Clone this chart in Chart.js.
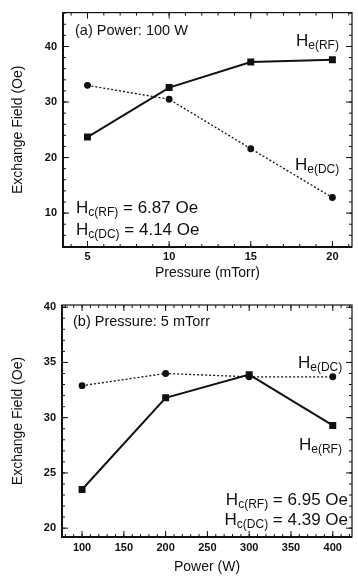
<!DOCTYPE html>
<html>
<head>
<meta charset="utf-8">
<script src="https://cdn.jsdelivr.net/npm/chart.js@4"></script>
<style>
  body { margin: 0; background: #fff; }
  .box { position: absolute; left: 0; width: 358px; }
</style>
</head>
<body>
<div class="box" style="top:0;height:290px"><canvas id="chartA" width="358" height="290"></canvas></div>
<div class="box" style="top:290px;height:288px"><canvas id="chartB" width="358" height="288"></canvas></div>
<script>
// panel (a): power 100 W, vs pressure
const pressure = [5, 10, 15, 20];
const heRfPressure = [23.7, 32.6, 37.2, 37.6];
const heDcPressure = [33.0, 30.5, 21.6, 12.8];
const pressureTicks = [5, 10, 15, 20];
const fieldTicksA = [10, 20, 30, 40];

// panel (b): pressure 5 mTorr, vs power
const power = [100, 200, 300, 400];
const heRfPower = [23.5, 31.8, 33.9, 29.3];
const heDcPower = [32.9, 34.0, 33.7, 33.7];
const powerTicks = [100, 150, 200, 250, 300, 350, 400];
const fieldTicksB = [20, 25, 30, 35, 40];

const FONT = "'Liberation Sans', Arial, Helvetica, sans-serif";
const INK = '#111';

function pts(xs, ys) {
    return xs.map((x, i) => ({ x: x, y: ys[i] }));
}

// frame with inward major + minor ticks on all four sides
const framePlugin = {
    id: 'frame',
    afterDraw(chart, args, opts) {
        const ctx = chart.ctx;
        const a = chart.chartArea;
        const xs = chart.scales.x, ys = chart.scales.y;
        ctx.save();
        ctx.strokeStyle = INK;
        ctx.lineWidth = 1.2;
        ctx.strokeRect(a.left, a.top, a.right - a.left, a.bottom - a.top);
        ctx.lineWidth = 2;
        ctx.beginPath();
        ctx.moveTo(a.left, a.top);
        ctx.lineTo(a.left, a.bottom);
        ctx.lineTo(a.right, a.bottom);
        ctx.stroke();
        ctx.lineWidth = 1;
        ctx.beginPath();
        const tickX = (v, len) => {
            const p = xs.getPixelForValue(v);
            ctx.moveTo(p, a.bottom); ctx.lineTo(p, a.bottom - len);
            ctx.moveTo(p, a.top); ctx.lineTo(p, a.top + len);
        };
        const tickY = (v, len) => {
            const p = ys.getPixelForValue(v);
            ctx.moveTo(a.left, p); ctx.lineTo(a.left + len, p);
            ctx.moveTo(a.right, p); ctx.lineTo(a.right - len, p);
        };
        for (let v = Math.ceil(xs.min / opts.xMinor) * opts.xMinor; v <= xs.max; v += opts.xMinor) tickX(v, 3);
        for (let v = Math.ceil(ys.min / opts.yMinor) * opts.yMinor; v <= ys.max; v += opts.yMinor) tickY(v, 3);
        xs.ticks.forEach(t => tickX(t.value, 6));
        ys.ticks.forEach(t => tickY(t.value, 6));
        ctx.stroke();
        ctx.restore();
    }
};

// text labels with subscripts
const notesPlugin = {
    id: 'notes',
    afterDraw(chart, args, opts) {
        const ctx = chart.ctx;
        ctx.save();
        ctx.fillStyle = INK;
        ctx.textBaseline = 'alphabetic';
        ctx.textAlign = 'left';
        opts.items.forEach(item => {
            let w = 0;
            item.parts.forEach(p => {
                ctx.font = p.size + 'px ' + FONT;
                w += ctx.measureText(p.t).width;
            });
            let x = item.align === 'right' ? item.x - w : item.x;
            item.parts.forEach(p => {
                ctx.font = p.size + 'px ' + FONT;
                ctx.fillText(p.t, x, item.y + (p.dy || 0));
                x += ctx.measureText(p.t).width;
            });
        });
        ctx.restore();
    }
};

function sub(main, s, rest) {
    const parts = [{ t: main, size: 17 }, { t: s, size: 12, dy: 3 }];
    if (rest) parts.push({ t: rest, size: 17 });
    return parts;
}

function makeChart(id, cfg) {
    const ctx = document.getElementById(id).getContext('2d');
    return new Chart(ctx, {
        type: 'line',
        data: {
            datasets: [{
                label: 'He(RF)',
                data: cfg.rf,
                borderColor: INK,
                backgroundColor: INK,
                borderWidth: 2,
                pointStyle: 'rect',
                pointRadius: 3.5,
                tension: 0
            }, {
                label: 'He(DC)',
                data: cfg.dc,
                borderColor: INK,
                backgroundColor: INK,
                borderWidth: 1.3,
                borderDash: [2, 2],
                pointStyle: 'circle',
                pointRadius: 2.8,
                tension: 0
            }]
        },
        options: {
            responsive: false,
            animation: false,
            layout: { padding: cfg.padding },
            plugins: {
                legend: { display: false },
                tooltip: { enabled: false },
                frame: { xMinor: cfg.xMinor, yMinor: cfg.yMinor },
                notes: { items: cfg.notes }
            },
            scales: {
                x: {
                    type: 'linear',
                    min: cfg.xMin, max: cfg.xMax,
                    afterBuildTicks: s => { s.ticks = cfg.xTicks.map(v => ({ value: v })); },
                    afterFit: s => { s.height = cfg.xHeight; },
                    grid: { display: false, drawTicks: false },
                    border: { display: false },
                    ticks: { color: INK, padding: cfg.xPad, font: { family: FONT, size: 11, weight: 'bold' } },
                    title: {
                        display: true, text: cfg.xTitle, color: INK,
                        font: { family: FONT, size: 14 },
                        padding: { top: 0, bottom: cfg.xTitlePad }
                    }
                },
                y: {
                    min: cfg.yMin, max: cfg.yMax,
                    afterBuildTicks: s => { s.ticks = cfg.yTicks.map(v => ({ value: v })); },
                    afterFit: s => { s.width = cfg.yWidth; },
                    grid: { display: false, drawTicks: false },
                    border: { display: false },
                    ticks: { color: INK, padding: 6, font: { family: FONT, size: 11, weight: 'bold' } },
                    title: {
                        display: true, text: 'Exchange Field (Oe)', color: INK,
                        font: { family: FONT, size: 14 },
                        padding: { top: 10, bottom: 0 }
                    }
                }
            }
        },
        plugins: [framePlugin, notesPlugin]
    });
}

makeChart('chartA', {
    rf: pts(pressure, heRfPressure),
    dc: pts(pressure, heDcPressure),
    xTicks: pressureTicks, yTicks: fieldTicksA,
    xMin: 3.5, xMax: 21.2, yMin: 3.9, yMax: 46.1,
    xMinor: 1, yMinor: 2,
    padding: { left: 0, right: 4, top: 9, bottom: 0 },
    yWidth: 63, xHeight: 43, xPad: 3, xTitlePad: 8,
    xTitle: 'Pressure (mTorr)',
    notes: [
        { x: 75, y: 35, parts: [{ t: '(a) Power: 100 W', size: 14.5 }] },
        { x: 296, y: 46, parts: sub('H', 'e(RF)') },
        { x: 295, y: 170, parts: sub('H', 'e(DC)') },
        { x: 76, y: 213, parts: sub('H', 'c(RF)', ' = 6.87 Oe') },
        { x: 76, y: 235, parts: sub('H', 'c(DC)', ' = 4.14 Oe') }
    ]
});

makeChart('chartB', {
    rf: pts(power, heRfPower),
    dc: pts(power, heDcPower),
    xTicks: powerTicks, yTicks: fieldTicksB,
    xMin: 76, xMax: 423, yMin: 19.2, yMax: 40.2,
    xMinor: 10, yMinor: 1,
    padding: { left: 0, right: 5, top: 15, bottom: 0 },
    yWidth: 62, xHeight: 41, xPad: 4, xTitlePad: 2,
    xTitle: 'Power (W)',
    notes: [
        { x: 73, y: 36, parts: [{ t: '(b) Pressure: 5 mTorr', size: 14.5 }] },
        { x: 298, y: 78, parts: sub('H', 'e(DC)') },
        { x: 299, y: 160, parts: sub('H', 'e(RF)') },
        { x: 348, y: 215, align: 'right', parts: sub('H', 'c(RF)', ' = 6.95 Oe') },
        { x: 348, y: 235, align: 'right', parts: sub('H', 'c(DC)', ' = 4.39 Oe') }
    ]
});
</script>
</body>
</html>
